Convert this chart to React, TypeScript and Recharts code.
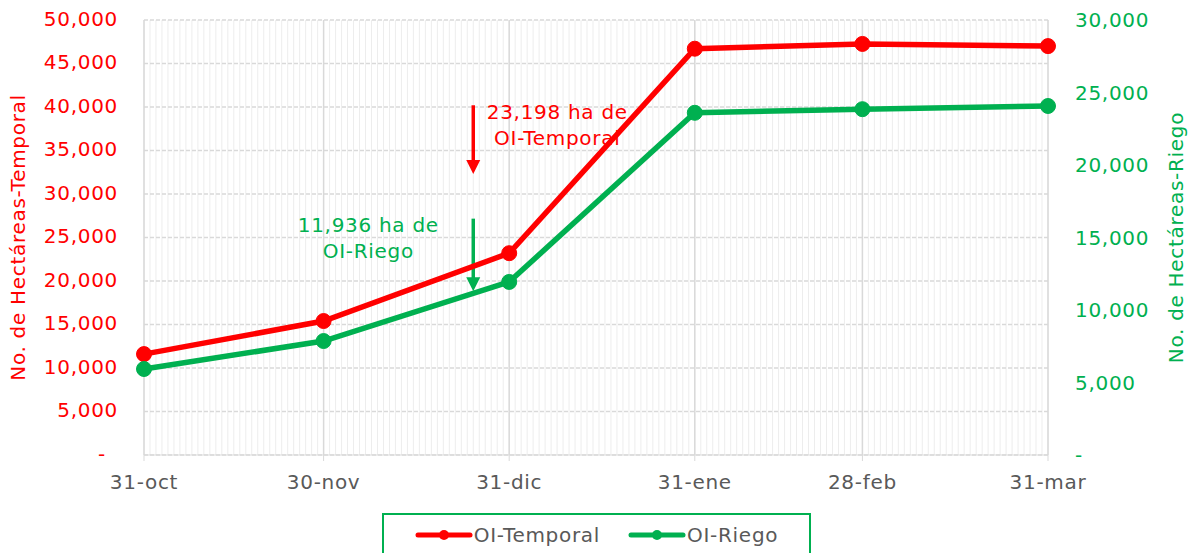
import React from 'react';
import {
  LineChart,
  Line,
  XAxis,
  YAxis,
  CartesianGrid,
  Legend,
  ReferenceLine,
} from 'recharts';

// days since 31-oct
const dayIndex = [0, 30, 61, 92, 120, 151];
const dateLabels = ['31-oct', '30-nov', '31-dic', '31-ene', '28-feb', '31-mar'];
const temporalValues = [11600, 15400, 23198, 46700, 47250, 47000];
const riegoValues = [5930, 7860, 11936, 23600, 23850, 24070];
const leftTicks = [0, 5000, 10000, 15000, 20000, 25000, 30000, 35000, 40000, 45000, 50000];
const rightTicks = [0, 5000, 10000, 15000, 20000, 25000, 30000];
const totalDays = 151;

const annotations = [
  { axis: 'left', x: 55, yTop: 40200, yTip: 32300, lines: ['23,198 ha de', 'OI-Temporal'], color: '#ff0000', side: 'right' },
  { axis: 'right', x: 55, yTop: 16300, yTip: 11300, lines: ['11,936 ha de', 'OI-Riego'], color: '#00b050', side: 'left' },
];

const RED = '#ff0000';
const GREEN = '#00b050';
const GRAY = '#595959';
const FONT = '"DejaVu Sans", sans-serif';
const FS = 20;
const LS = 0.7;

const data = dayIndex.map((d, i) => ({
  day: d,
  label: dateLabels[i],
  temporal: temporalValues[i],
  riego: riegoValues[i],
}));

const fmt = (v: number) => (v === 0 ? '-' : v.toLocaleString('en-US'));
const xLabel = (v: number) => dateLabels[dayIndex.indexOf(v)] ?? '';

const dailyLines = ({ offset }: any) => {
  const out: number[] = [];
  for (let d = 0; d <= totalDays; d++) out.push(offset.left + (d * offset.width) / totalDays);
  return out;
};

// accounting-style zero sits a bit left of the other labels
const LeftTick = (props: any) => {
  const { x, y, payload } = props;
  const zero = payload.value === 0;
  return (
    <text
      x={zero ? x - 12 : x}
      y={y}
      textAnchor="end"
      dominantBaseline="middle"
      fill={RED}
      fontSize={FS}
      fontFamily={FONT}
      letterSpacing={LS}
    >
      {fmt(payload.value)}
    </text>
  );
};

const AxisTitle = (text: string, color: string, dx: number) => (props: any) => {
  const { viewBox } = props;
  const cx = viewBox.x + dx;
  const cy = viewBox.y + viewBox.height / 2;
  return (
    <text
      x={cx}
      y={cy}
      transform={`rotate(-90, ${cx}, ${cy})`}
      textAnchor="middle"
      dominantBaseline="middle"
      fill={color}
      fontSize={FS}
      fontFamily={FONT}
      letterSpacing={LS}
    >
      {text}
    </text>
  );
};

const arrowShape = (a: (typeof annotations)[number]) => (props: any) => {
  const { x1, y1, y2 } = props;
  const top = Math.min(y1, y2);
  const tip = Math.max(y1, y2);
  const tx = a.side === 'right' ? x1 + 84 : x1 - 105;
  return (
    <g>
      <line x1={x1} y1={top} x2={x1} y2={tip - 12} stroke={a.color} strokeWidth={3.5} />
      <polygon points={`${x1 - 7},${tip - 14} ${x1 + 7},${tip - 14} ${x1},${tip}`} fill={a.color} />
      {a.lines.map((t, i) => (
        <text
          key={t}
          x={tx}
          y={top + 8 + i * 26}
          textAnchor="middle"
          dominantBaseline="middle"
          fill={a.color}
          fontSize={FS}
          fontFamily={FONT}
          letterSpacing={LS}
        >
          {t}
        </text>
      ))}
    </g>
  );
};

const LegendBox = () => (
  <div
    style={{
      border: `2px solid ${GREEN}`,
      width: 429,
      height: 52,
      boxSizing: 'border-box',
      display: 'flex',
      alignItems: 'flex-start',
      justifyContent: 'center',
      paddingTop: 8,
      gap: 28,
      fontFamily: FONT,
      fontSize: FS,
      letterSpacing: LS,
      color: GRAY,
    }}
  >
    {[
      { name: 'OI-Temporal', color: RED },
      { name: 'OI-Riego', color: GREEN },
    ].map((it) => (
      <div key={it.name} style={{ display: 'flex', alignItems: 'center' }}>
        <svg width={58} height={16}>
          <line x1={3} y1={8} x2={55} y2={8} stroke={it.color} strokeWidth={5} strokeLinecap="round" />
          <circle cx={29} cy={8} r={5} fill={it.color} />
        </svg>
        <span style={{ marginLeft: 1 }}>{it.name}</span>
      </div>
    ))}
  </div>
);

export default function App() {
  return (
    <div style={{ position: 'relative', width: 1192, height: 553, overflow: 'hidden' }}>
      <style>{`body{margin:0}`}</style>
      <LineChart width={1192} height={553} data={data} margin={{ top: 20, right: 0, bottom: 0, left: 0 }}>
        <CartesianGrid
          yAxisId="left"
          horizontal={false}
          vertical
          verticalCoordinatesGenerator={dailyLines}
          stroke="#ededed"
          strokeWidth={1}
        />
        <CartesianGrid
          yAxisId="left"
          vertical={false}
          horizontalValues={leftTicks}
          stroke="#d9d9d9"
          strokeDasharray="4 2"
          strokeWidth={1.3}
        />
        <CartesianGrid
          yAxisId="left"
          horizontal={false}
          verticalValues={dayIndex}
          stroke="#d9d9d9"
          strokeWidth={1.5}
        />
        <XAxis
          dataKey="day"
          type="number"
          domain={[0, totalDays]}
          ticks={dayIndex}
          tickFormatter={xLabel}
          height={46}
          stroke="#d9d9d9"
          tickSize={6}
          tickMargin={14}
          tick={{ fill: GRAY, fontSize: FS, fontFamily: FONT, letterSpacing: LS }}
        />
        <YAxis
          yAxisId="left"
          orientation="left"
          width={144}
          domain={[0, 50000]}
          ticks={leftTicks}
          axisLine={false}
          tickLine={false}
          tickMargin={20}
          tick={<LeftTick />}
          label={{ content: AxisTitle('No. de Hectáreas-Temporal', RED, 19) }}
        />
        <YAxis
          yAxisId="right"
          orientation="right"
          width={144}
          domain={[0, 30000]}
          ticks={rightTicks}
          tickFormatter={fmt}
          axisLine={false}
          tickLine={false}
          tickMargin={21}
          tick={{ fill: GREEN, fontSize: FS, fontFamily: FONT, letterSpacing: LS, textAnchor: 'start' }}
          label={{ content: AxisTitle('No. de Hectáreas-Riego', GREEN, 129) }}
        />
        {annotations.map((a) => (
          <ReferenceLine
            key={a.lines[0]}
            yAxisId={a.axis}
            segment={[
              { x: a.x, y: a.yTop },
              { x: a.x, y: a.yTip },
            ]}
            shape={arrowShape(a)}
          />
        ))}
        <Line
          yAxisId="left"
          dataKey="temporal"
          name="OI-Temporal"
          stroke={RED}
          strokeWidth={5.5}
          dot={{ r: 7.5, fill: RED, stroke: RED, strokeWidth: 1 }}
          activeDot={false}
          isAnimationActive={false}
        />
        <Line
          yAxisId="right"
          dataKey="riego"
          name="OI-Riego"
          stroke={GREEN}
          strokeWidth={5.5}
          dot={{ r: 7.5, fill: GREEN, stroke: GREEN, strokeWidth: 1 }}
          activeDot={false}
          isAnimationActive={false}
        />
        <Legend
          verticalAlign="bottom"
          content={<LegendBox />}
          wrapperStyle={{ position: 'absolute', left: 382, top: 513, width: 429, height: 52, bottom: 'auto' }}
        />
      </LineChart>
    </div>
  );
}
